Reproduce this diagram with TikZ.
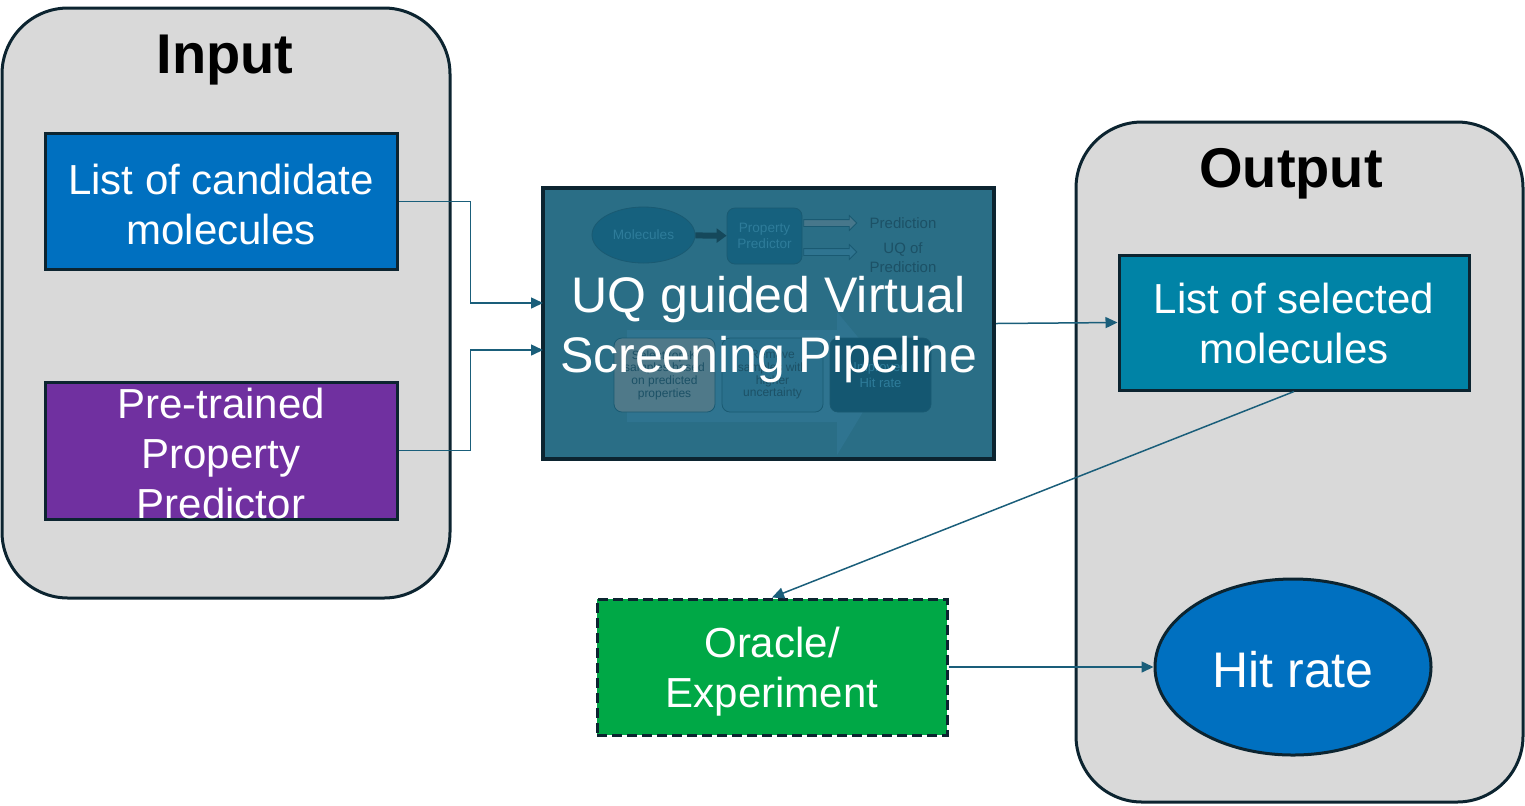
\documentclass[tikz,border=0pt]{standalone}
\usepackage{fontspec}
\setmainfont{Liberation Sans}
\usepackage{tikz}
\usetikzlibrary{positioning}
\usetikzlibrary{shapes,shapes.geometric,shapes.arrows,arrows.meta}
\definecolor{edgeblue}{HTML}{1A5E7A}
\definecolor{darkrim}{HTML}{0C2430}
\definecolor{groupgray}{HTML}{D9D9D9}
\definecolor{candblue}{HTML}{0070C0}
\definecolor{predpurple}{HTML}{7030A0}
\definecolor{pipeteal}{HTML}{2A6E86}
\definecolor{selteal}{HTML}{0083A6}
\definecolor{oraclegreen}{HTML}{00A846}
\definecolor{ghostrim}{HTML}{1A5A72}
\definecolor{ghostdark}{HTML}{16617E}
\definecolor{ghostlight}{HTML}{2F7490}
\definecolor{ghosttext}{HTML}{2E7C9A}
\definecolor{ghostink}{HTML}{1C5166}
\newcommand{\boxfont}{\fontsize{21}{25}\selectfont}
\newcommand{\titlefont}{\fontsize{28}{32}\selectfont\bfseries}
\newcommand{\pipefont}{\fontsize{25}{30}\selectfont}
\newcommand{\ghostfont}{\fontsize{6}{6.3}\selectfont}
\tikzset{lower/.style={text height=#1}}

\begin{document}
\begin{tikzpicture}[x=0.5pt,y=-0.5pt]
\tikzstyle{group}=[rectangle, rounded corners=33pt, draw=darkrim, line width=1.5pt, fill=groupgray]
\tikzstyle{title}=[font=\titlefont, text=black]
\tikzstyle{box}=[rectangle, draw=darkrim, line width=1.5pt, text=white, align=center, font=\boxfont, minimum width=176pt, minimum height=68pt, inner sep=0pt]
\tikzstyle{ghost}=[rectangle, rounded corners=4pt, draw=ghostrim, line width=0.4pt, font=\ghostfont, align=center, minimum width=50.5pt, minimum height=37pt, inner sep=0pt]
\tikzstyle{ghostout}=[single arrow, draw=ghostrim, line width=0.4pt, minimum height=26.5pt, minimum width=7pt, single arrow head extend=2pt, inner sep=1.5pt]
\tikzstyle{connect}=[-{Triangle[length=6pt,width=5.5pt]}, draw=edgeblue, line width=0.75pt]

\useasboundingbox (0,0) rectangle (1525,805);

% input side
\node[group, minimum width=224pt, minimum height=295pt] (input) at (226,303) {};
\node[title] (inputtitle) at (225,60) {Input};
\node[box, fill=candblue, lower=43.3pt] (cand) at (221,201.5) {List of candidate\\molecules};
\node[box, fill=predpurple, lower=68.3pt] (pred) at (221,450.5) {Pre-trained\\Property\\Predictor};

% output side
\node[group, minimum width=223.5pt, minimum height=340pt] (output) at (1299.5,462) {};
\node[title] (outputtitle) at (1291,174) {Output};
\node[box, fill=selteal, minimum width=175pt, minimum height=67.5pt, lower=41.5pt] (sel) at (1294,322.5) {List of selected\\molecules};
\node[ellipse, draw=darkrim, line width=1.5pt, fill=candblue, text=white, font=\pipefont, minimum width=138pt, minimum height=88pt, lower=21.2pt] (hit) at (1293,667) {Hit rate};

\node[box, fill=oraclegreen, dash pattern=on 5pt off 2.5pt, minimum width=175pt, lower=44.5pt] (oracle) at (772,667) {Oracle/\\Experiment};

% pipeline, with the faint sketch behind its text
\node[box, fill=pipeteal, line width=2pt, minimum width=225.5pt, minimum height=135.5pt] (pipe) at (768.5,323.5) {};
\fill[ghostlight] (627,330) -- (837,330) -- (837,312) -- (887,372) -- (837,455) -- (837,422) -- (627,422) -- cycle;
\node[ghost, ellipse, rounded corners=0pt, fill=ghostdark, text=ghosttext, font=\fontsize{6.8}{7}\selectfont, minimum width=51.5pt, minimum height=28pt] (gmol) at (643.5,235) {Molecules};
\node[ghost, fill=ghostdark, text=ghosttext, font=\fontsize{6.8}{8}\selectfont, minimum width=37.5pt, minimum height=28pt] (gpp) at (764.5,236) {Property\\Predictor};
\draw[-{Triangle[length=5pt,width=7pt]}, draw=ghostrim!80!black, line width=3pt] (gmol) -- (gpp);
\node[ghostout, fill=ghostlight!70!gray] (gout1) at (828.5,223) {};
\node[ghostout, fill=ghostlight] (gout2) at (828.5,252) {};
\node[text=ghostink, font=\fontsize{7.5}{9.5}\selectfont] (gpred) at (903,223) {Prediction};
\node[text=ghostink, font=\fontsize{7.5}{9.5}\selectfont, align=center] (guq) at (903,258) {UQ of\\Prediction};
\node[ghost, fill=ghostlight!60!gray, text=ghostink] (gsel) at (664.5,375) {Select top-K\\samples based\\on predicted\\properties};
\node[ghost, fill=ghostlight!80!ghostdark, text=ghostink] (grem) at (772.5,375) {Remove\\samples with\\higher\\uncertainty};
\node[ghost, fill=ghostdark!90!black, text=ghosttext, font=\fontsize{6.5}{8}\selectfont] (gimp) at (880.5,375) {Improved\\Hit rate};
\node[text=white, font=\pipefont, align=center, lower=54.3pt] (pipetext) at (pipe.center) {UQ guided Virtual\\Screening Pipeline};

\coordinate (in1) at (543,303);
\coordinate (in2) at (543,350);

\draw[connect] (cand.east) -- ++(72,0) |- (in1);
\draw[connect] (pred.east) -- ++(72,0) |- (in2);
\draw[connect] (pipe.east) -- (sel.west);
\draw[connect] (sel.south) -- (oracle.north);
\draw[connect] (oracle.east) -- (hit.west);

\end{tikzpicture}
\end{document}
